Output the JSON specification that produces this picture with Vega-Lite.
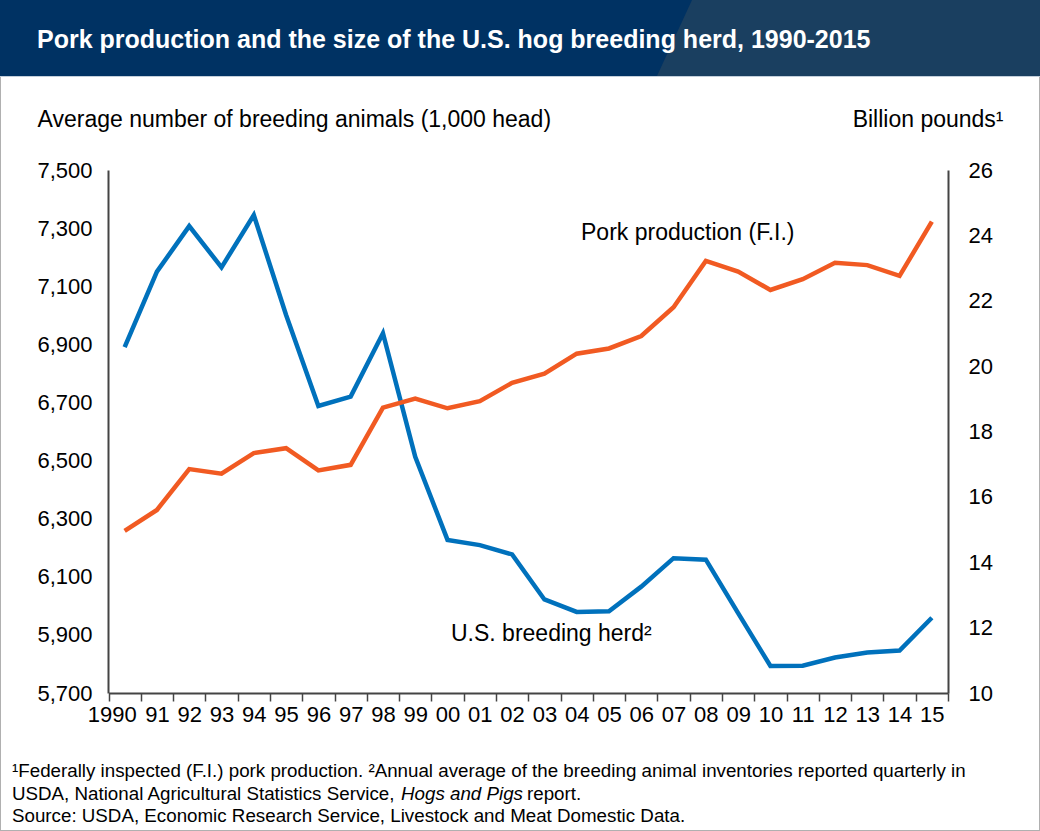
{
  "$schema": "https://vega.github.io/schema/vega-lite/v6.json",
  "width": 1040,
  "height": 831,
  "padding": 0,
  "autosize": {"type": "none"},
  "background": "white",
  "view": {"stroke": "#b0b0b0", "strokeWidth": 2},
  "config": {"font": "Liberation Sans", "text": {"font": "Liberation Sans"}},
  "title": {
    "text": "Pork production and the size of the U.S. hog breeding herd, 1990-2015",
    "font": "Liberation Sans",
    "fontSize": 25,
    "fontWeight": "bold",
    "color": "white",
    "anchor": "start",
    "frame": "group",
    "offset": -53,
    "dx": 37
  },
  "datasets": {
    "banner": [
      {"part": "main", "h": 0, "from": 0, "to": 1040},
      {"part": "main", "h": 76, "from": 0, "to": 1040},
      {"part": "side", "h": 0, "from": 692, "to": 1040},
      {"part": "side", "h": 76, "from": 657, "to": 1040},
      {"part": "edge", "h": 76, "from": 0, "to": 1040},
      {"part": "edge", "h": 77, "from": 0, "to": 1040}
    ],
    "years": [
      {"year": "1990", "herd": 6890, "pork": 14.96},
      {"year": "91", "herd": 7150, "pork": 15.6},
      {"year": "92", "herd": 7307, "pork": 16.85},
      {"year": "93", "herd": 7165, "pork": 16.71},
      {"year": "94", "herd": 7345, "pork": 17.34},
      {"year": "95", "herd": 7001, "pork": 17.49},
      {"year": "96", "herd": 6688, "pork": 16.81},
      {"year": "97", "herd": 6720, "pork": 16.98},
      {"year": "98", "herd": 6938, "pork": 18.73},
      {"year": "99", "herd": 6513, "pork": 19.01},
      {"year": "00", "herd": 6227, "pork": 18.71},
      {"year": "01", "herd": 6209, "pork": 18.93},
      {"year": "02", "herd": 6177, "pork": 19.49},
      {"year": "03", "herd": 6022, "pork": 19.77},
      {"year": "04", "herd": 5979, "pork": 20.38},
      {"year": "05", "herd": 5981, "pork": 20.54},
      {"year": "06", "herd": 6066, "pork": 20.92},
      {"year": "07", "herd": 6164, "pork": 21.8},
      {"year": "08", "herd": 6159, "pork": 23.22},
      {"year": "09", "herd": 5975, "pork": 22.89},
      {"year": "10", "herd": 5793, "pork": 22.33},
      {"year": "11", "herd": 5794, "pork": 22.66},
      {"year": "12", "herd": 5822, "pork": 23.16},
      {"year": "13", "herd": 5839, "pork": 23.09},
      {"year": "14", "herd": 5846, "pork": 22.76},
      {"year": "15", "herd": 5959, "pork": 24.42}
    ],
    "labels": [
      {"label": "Pork production (F.I.)", "across": 581, "down": 233},
      {"label": "U.S. breeding herd²", "across": 451, "down": 634},
      {"label": "¹Federally inspected (F.I.) pork production. ²Annual average of the breeding animal inventories reported quarterly in", "across": 12, "down": 771, "kind": "note"},
      {"label": "USDA, National Agricultural Statistics Service,", "across": 12, "down": 793.5, "kind": "note"},
      {"label": "report.", "across": 527, "down": 793.5, "kind": "note"},
      {"label": "Source: USDA, Economic Research Service, Livestock and Meat Domestic Data.", "across": 12, "down": 815.5, "kind": "note"}
    ],
    "italic": [
      {"label": "Hogs and Pigs", "across": 401, "down": 793.5}
    ]
  },
  "layer": [
    {
      "data": {"name": "banner"},
      "mark": {"type": "area", "orient": "horizontal"},
      "encoding": {
        "y": {"field": "h", "type": "quantitative", "scale": {"domain": [0, 831], "range": [0, 831]}, "axis": null},
        "x": {"field": "from", "type": "quantitative", "scale": {"domain": [0, 1040], "range": [0, 1040]}, "axis": null},
        "x2": {"field": "to"},
        "color": {"field": "part", "type": "nominal", "scale": {"domain": ["main", "side", "edge"], "range": ["#003263", "#1a3f60", "#c3cfdb"]}, "legend": null}
      }
    },
    {
      "data": {"name": "years"},
      "mark": {"type": "line", "color": "#0071bc", "strokeWidth": 4.5, "strokeJoin": "miter"},
      "encoding": {
        "x": {
          "field": "year",
          "type": "nominal",
          "sort": null,
          "scale": {"type": "band", "paddingInner": 0, "paddingOuter": 0, "range": [108.5, 948]},
          "axis": {
            "title": null,
            "orient": "bottom",
            "offset": -138,
            "labelAngle": 0,
            "labelFont": "Liberation Sans",
            "labelFontSize": 22,
            "labelColor": "black",
            "labelPadding": 3,
            "labelOffset": {"condition": {"test": "datum.value == '1990'", "value": -13}, "value": 0},
            "labelOverlap": false,
            "tickBand": "extent",
            "tickSize": 8,
            "tickColor": "#444444",
            "tickWidth": 1.5,
            "domainColor": "#444444",
            "domainWidth": 2,
            "grid": false
          }
        },
        "y": {
          "field": "herd",
          "type": "quantitative",
          "scale": {"domain": [5700, 7500], "range": [693, 170]},
          "axis": {
            "title": "Average number of breeding animals (1,000 head)",
            "titleFont": "Liberation Sans",
            "titleFontSize": 23,
            "titleFontWeight": "normal",
            "titleColor": "black",
            "titleAngle": 0,
            "titleAlign": "left",
            "titleBaseline": "alphabetic",
            "titleX": -71,
            "titleY": 126,
            "orient": "left",
            "offset": -108,
            "values": [5700, 5900, 6100, 6300, 6500, 6700, 6900, 7100, 7300, 7500],
            "format": ",.0f",
            "labelFont": "Liberation Sans",
            "labelFontSize": 22,
            "labelColor": "black",
            "labelPadding": 16,
            "ticks": false,
            "domainColor": "#444444",
            "domainWidth": 2,
            "grid": false
          }
        }
      }
    },
    {
      "data": {"name": "years"},
      "mark": {"type": "line", "color": "#f15a22", "strokeWidth": 4.5, "strokeJoin": "miter"},
      "encoding": {
        "x": {
          "field": "year",
          "type": "nominal",
          "sort": null,
          "scale": {"type": "band", "paddingInner": 0, "paddingOuter": 0, "range": [108.5, 948]},
          "axis": null
        },
        "y": {
          "field": "pork",
          "type": "quantitative",
          "scale": {"domain": [10, 26], "range": [693, 170]},
          "axis": {
            "title": "Billion pounds¹",
            "titleFont": "Liberation Sans",
            "titleFontSize": 23,
            "titleFontWeight": "normal",
            "titleColor": "black",
            "titleAngle": 0,
            "titleAlign": "right",
            "titleBaseline": "alphabetic",
            "titleX": 55,
            "titleY": 126,
            "orient": "right",
            "offset": -92,
            "values": [10, 12, 14, 16, 18, 20, 22, 24, 26],
            "labelFont": "Liberation Sans",
            "labelFontSize": 22,
            "labelColor": "black",
            "labelPadding": 20,
            "ticks": false,
            "domainColor": "#444444",
            "domainWidth": 2,
            "grid": false
          }
        }
      }
    },
    {
      "data": {"name": "labels"},
      "mark": {"type": "text", "align": "left", "baseline": "middle", "font": "Liberation Sans", "color": "black"},
      "encoding": {
        "x": {"field": "across", "type": "quantitative", "scale": {"domain": [0, 1040], "range": [0, 1040]}, "axis": null},
        "y": {"field": "down", "type": "quantitative", "scale": {"domain": [0, 831], "range": [0, 831]}, "axis": null},
        "text": {"field": "label"},
        "size": {"condition": {"test": "datum.kind == 'note'", "value": 18.75}, "value": 23}
      }
    },
    {
      "data": {"name": "italic"},
      "mark": {"type": "text", "align": "left", "baseline": "middle", "font": "Liberation Sans", "fontStyle": "italic", "fontSize": 18.75, "color": "black"},
      "encoding": {
        "x": {"field": "across", "type": "quantitative", "scale": {"domain": [0, 1040], "range": [0, 1040]}, "axis": null},
        "y": {"field": "down", "type": "quantitative", "scale": {"domain": [0, 831], "range": [0, 831]}, "axis": null},
        "text": {"field": "label"}
      }
    }
  ],
  "resolve": {"scale": {"x": "independent", "y": "independent", "color": "independent"}, "axis": {"x": "independent", "y": "independent"}}
}
